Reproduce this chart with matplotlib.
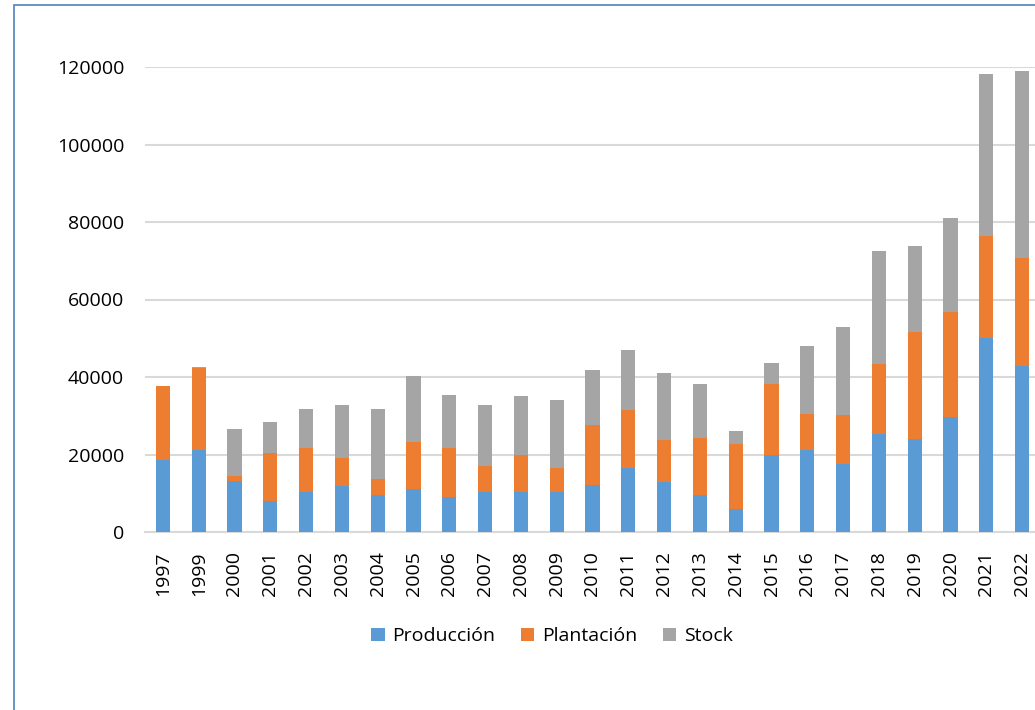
import matplotlib.pyplot as plt
import numpy as np
from matplotlib.patches import Rectangle

plt.rcParams['font.family'] = ['Open Sans', 'DejaVu Sans']

anios = ['1997', '1999', '2000', '2001', '2002', '2003', '2004', '2005', '2006',
         '2007', '2008', '2009', '2010', '2011', '2012', '2013', '2014', '2015',
         '2016', '2017', '2018', '2019', '2020', '2021', '2022']

produccion = [18500, 21100, 13100, 8000, 10200, 11800, 9600, 11200, 9000,
              10200, 10200, 10200, 12200, 16400, 12800, 9500, 6000, 20000,
              21200, 17600, 25300, 24100, 29800, 50000, 42900]
plantacion = [19100, 21100, 1300, 12500, 11500, 7400, 4200, 11900, 12700,
              6800, 9700, 6200, 15400, 15000, 10900, 14800, 16600, 18300,
              9300, 12700, 18100, 27400, 26900, 26400, 27700]
stock = [0, 300, 12200, 8000, 10100, 13600, 18000, 17100, 13600,
         15700, 15100, 17600, 14100, 15500, 17400, 13900, 3400, 5400,
         17600, 22500, 29100, 22300, 24400, 41700, 48400]

azul = '#5b9bd5'
naranja = '#ed7d31'
gris = '#a5a5a5'

fig = plt.figure(figsize=(10.35, 7.1), dpi=100)
ax = fig.add_axes([145 / 1035, 178 / 710, 895 / 1035, 465 / 710])

x = np.arange(len(anios))
prod = np.array(produccion)
plan = np.array(plantacion)
stk = np.array(stock)
ancho = 0.4

ax.bar(x, prod, ancho, color=azul, label='Producción', zorder=3)
ax.bar(x, plan, ancho, bottom=prod, color=naranja, label='Plantación', zorder=3)
ax.bar(x, stk, ancho, bottom=prod + plan, color=gris, label='Stock', zorder=3)

ax.set_xlim(-0.5, len(anios) - 0.5)
ax.set_ylim(0, 120000)
ax.set_yticks(np.arange(0, 120001, 20000))
ax.set_yticklabels([str(v) for v in range(0, 120001, 20000)], fontsize=14)
ax.set_xticks(x)
ax.set_xticklabels(anios, rotation=90, fontsize=14)
ax.tick_params(axis='both', length=0, colors='#000000')
ax.tick_params(axis='y', pad=15)
ax.tick_params(axis='x', pad=14)

ax.grid(axis='y', color='#d9d9d9', linewidth=1.5, zorder=0)
for s in ['top', 'right', 'left']:
    ax.spines[s].set_visible(False)
ax.spines['bottom'].set_color('#d9d9d9')
ax.spines['bottom'].set_linewidth(1.5)

fig.legend(loc='center', bbox_to_anchor=(552 / 1035, 0.104), ncol=3, frameon=False,
           fontsize=14, handlelength=0.7, handleheight=0.7, handletextpad=0.4,
           columnspacing=1.3)

# marco azul de la figura
marco = Rectangle((14 / 1035, -0.2), 1.2, (705 / 710) + 0.2, transform=fig.transFigure,
                  fill=False, edgecolor='#4f81bd', linewidth=1.2)
fig.patches.append(marco)

fig.savefig('out.png', dpi=100)
